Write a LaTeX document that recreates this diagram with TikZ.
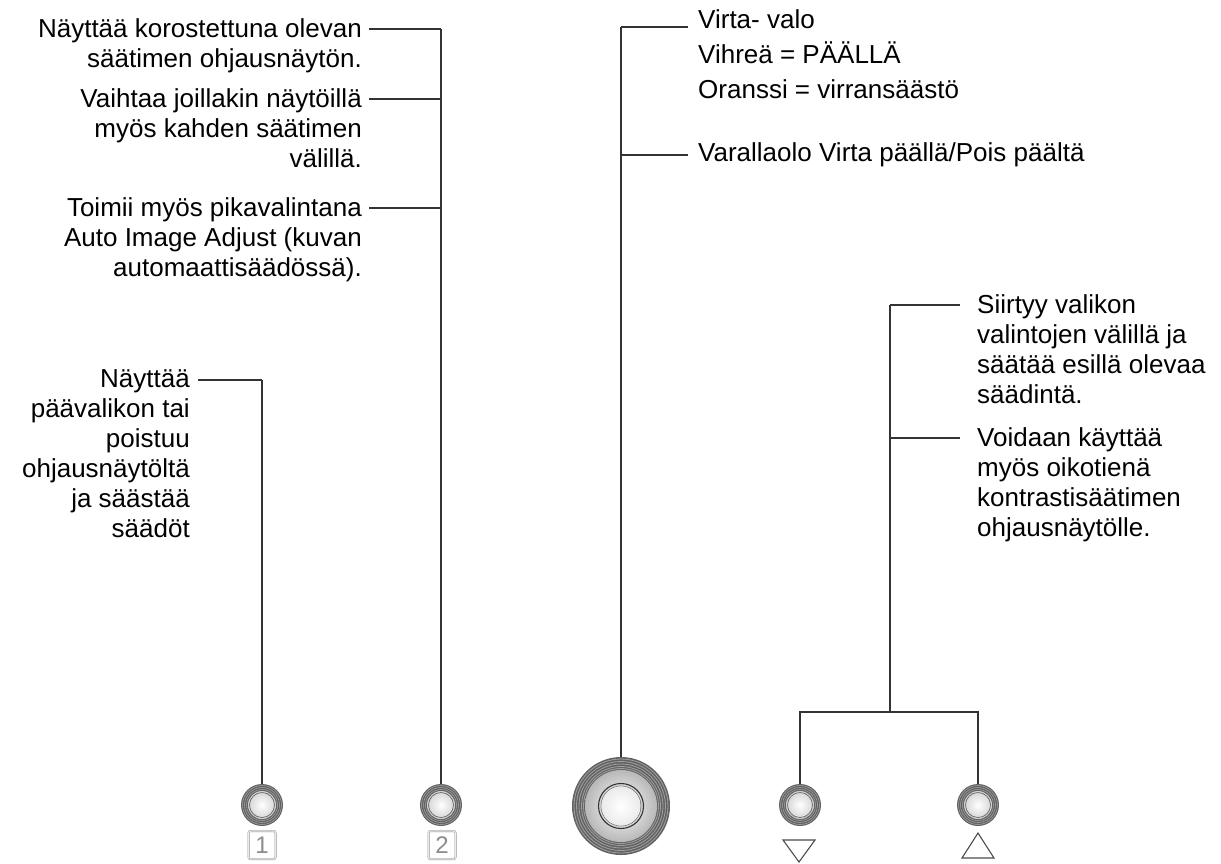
\documentclass[tikz,border=0pt]{standalone}
\usepackage{fontspec}
\setmainfont{Liberation Sans}
\usetikzlibrary{calc, positioning}

\definecolor{ln}{HTML}{333333}
\definecolor{ring}{HTML}{626262}
\definecolor{ringlt}{HTML}{a0a0a0}
\definecolor{keygr}{HTML}{8c8c8c}

\tikzset{
    lbl/.style={inner sep=0pt, font=\fontsize{26}{30}\selectfont},
    lblr/.style={lbl, align=right, anchor=north east},
    lbll/.style={lbl, align=left, anchor=north west},
    lead/.style={draw=ln, line width=1.1pt},
    knob/.style={circle, inner sep=0pt, minimum size=42pt},
    bigknob/.style={circle, inner sep=0pt, minimum size=98pt},
    keybox/.style={draw=keygr, double=black!8, double distance=1.2pt, rounded corners=2pt,
        minimum width=27pt, minimum height=28pt, inner sep=0pt, text=keygr,
        font=\fontsize{24}{24}\selectfont},
    tri/.style={draw=black!70, line width=1.1pt, line join=miter},
}

\begin{document}
\begin{tikzpicture}[x=1pt, y=-1pt]
    \useasboundingbox (0,0) rectangle (1221,863);

    % buttons
    \node[knob] (k1) at (262,805) {};
    \node[knob] (k2) at (441,805) {};
    \node[bigknob] (k3) at (621,806) {};
    \node[knob] (k4) at (800,805) {};
    \node[knob] (k5) at (978,805) {};

    \foreach \k in {k1,k2,k4,k5} {
        \fill[ring] (\k) circle (21pt);
        \foreach \r in {19.5,17.5,15.5}
            \draw[ringlt, line width=0.6pt] (\k) circle (\r pt);
        \fill[black!18] (\k) circle (14pt);
        \shade[inner color=white, outer color=black!15] (\k) circle (12.5pt);
        \draw[black!60, line width=0.7pt] (\k) circle (12.5pt);
    }

    \fill[ring] (k3) circle (49pt);
    \foreach \r in {47,44.5,42,39.5,37.5}
        \draw[ringlt, line width=0.8pt] (k3) circle (\r pt);
    \shade[inner color=white, outer color=black!28] (k3) circle (36pt);
    \draw[black!80, line width=1.1pt] (k3) circle (22.5pt);
    \draw[black!55, line width=0.7pt] (k3) circle (20pt);
    \shade[inner color=white, outer color=black!8] (k3) circle (19.6pt);

    % key marks
    \node[keybox] (n1) at (262,845) {1};
    \node[keybox] (n2) at (442,845) {2};
    \draw[tri] (783,840) -- (815,840) -- (799,862) -- cycle;
    \draw[tri] (978,833) -- (994,858) -- (962,858) -- cycle;

    % texts
    \node[lblr] (t1) at (362,18) {Näyttää korostettuna olevan\\säätimen ohjausnäytön.};
    \node[lblr] (t2) at (362,88) {Vaihtaa joillakin näytöillä\\myös kahden säätimen\\välillä.};
    \node[lblr] (t3) at (362,197) {Toimii myös pikavalintana\\Auto Image Adjust (kuvan\\automaattisäädössä).};
    \node[lblr] (t4) at (190,369) {Näyttää\\päävalikon tai\\poistuu\\ohjausnäytöltä\\ja säästää\\säädöt};
    \node[lbll] (t5) at (698,9) {Virta- valo\\[5pt]Vihreä = PÄÄLLÄ\\[5pt]Oranssi = virransäästö};
    \node[lbll] (t6) at (698,142) {Varallaolo Virta päällä/Pois päältä};
    \node[lbll] (t7) at (977,294) {Siirtyy valikon\\valintojen välillä ja\\säätää esillä olevaa\\säädintä.};
    \node[lbll] (t8) at (977,427) {Voidaan käyttää\\myös oikotienä\\kontrastisäätimen\\ohjausnäytölle.};

    % leader lines
    \coordinate (j1) at (441,29);
    \coordinate (j2) at (441,99);
    \coordinate (j3) at (441,208);
    \coordinate (j4) at (262,380);
    \coordinate (j5) at (621,27);
    \coordinate (j6) at (621,155);
    \coordinate (j7) at (890,305);
    \coordinate (j8) at (890,438);
    \coordinate (jb) at (890,712);

    \draw[lead] (t1.north east |- j1) ++(7,0) -- (j1);
    \draw[lead] (t2.north east |- j2) ++(7,0) -- (j2);
    \draw[lead] (t3.north east |- j3) ++(7,0) -- (j3);
    \draw[lead] (t4.north east |- j4) ++(8,0) -- (j4);
    \draw[lead] (t5.north west |- j5) ++(-10,0) -- (j5);
    \draw[lead] (t6.north west |- j6) ++(-10,0) -- (j6);
    \draw[lead] (t7.north west |- j7) ++(-17,0) -- (j7);
    \draw[lead] (t8.north west |- j8) ++(-17,0) -- (j8);

    \draw[lead] (j1) -- (k2.north);
    \draw[lead] (j4) -- (k1.north);
    \draw[lead] (j5) -- (k3.north);
    \draw[lead] (j7) -- (jb);
    \draw[lead] (k4.north) -- (k4.north |- jb) -- (k5.north |- jb) -- (k5.north);
\end{tikzpicture}
\end{document}
